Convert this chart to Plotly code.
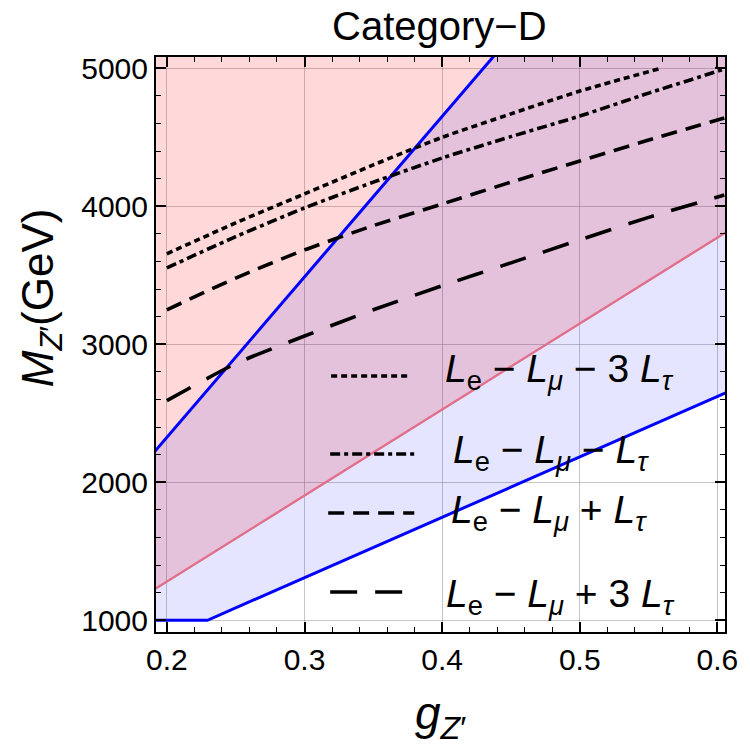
import plotly.graph_objects as go

# ---------------- data ----------------
# exclusion / bound lines (g_Z', M_Z' in GeV)
g_blue_up = [0.18, 0.45]
M_blue_up = [2093, 5233]
g_blue_lo = [0.18, 0.2295, 0.62]
M_blue_lo = [1000, 1000, 2709]
g_red = [0.18, 0.62]
M_red = [1156, 3898]

# L_e - L_mu - 3 L_tau (dotted)
g_c1 = [0.2, 0.25, 0.3, 0.35, 0.4, 0.45, 0.5, 0.56]
M_c1 = [3656, 3880, 4090, 4300, 4500, 4670, 4835, 5003]
# L_e - L_mu - L_tau (dash-dot)
g_c2 = [0.2, 0.25, 0.3, 0.35, 0.4, 0.45, 0.5, 0.55, 0.605]
M_c2 = [3554, 3780, 3988, 4175, 4350, 4505, 4654, 4820, 4994]
# L_e - L_mu + L_tau (dashed)
g_c3 = [0.2, 0.25, 0.3, 0.35, 0.4, 0.45, 0.5, 0.55, 0.605]
M_c3 = [3250, 3480, 3684, 3860, 4017, 4175, 4328, 4480, 4640]
# L_e - L_mu + 3 L_tau (long dashed)
g_c4 = [0.2, 0.25, 0.3, 0.35, 0.4, 0.45, 0.5, 0.55, 0.605]
M_c4 = [2592, 2860, 3060, 3250, 3424, 3590, 3757, 3920, 4082]

x_ticks = [0.2, 0.3, 0.4, 0.5, 0.6]
x_ticktext = ["0.2", "0.3", "0.4", "0.5", "0.6"]
y_ticks = [1000, 2000, 3000, 4000, 5000]
y_ticktext = ["1000", "2000", "3000", "4000", "5000"]

labels = [
    "<i>L</i><sub>e</sub> \u2212 <i>L</i><sub><i>\u03bc</i></sub> \u2212 3 <i>L</i><sub><i>\u03c4</i></sub>",
    "<i>L</i><sub>e</sub> \u2212 <i>L</i><sub><i>\u03bc</i></sub> \u2212 <i>L</i><sub><i>\u03c4</i></sub>",
    "<i>L</i><sub>e</sub> \u2212 <i>L</i><sub><i>\u03bc</i></sub> + <i>L</i><sub><i>\u03c4</i></sub>",
    "<i>L</i><sub>e</sub> \u2212 <i>L</i><sub><i>\u03bc</i></sub> + 3 <i>L</i><sub><i>\u03c4</i></sub>",
]
dashes = ["6px,4px", "10px,4px,4px,4px", "16px,9px", "27px,18px"]

X_RANGE = [0.1921, 0.6055]
Y_RANGE = [915, 5082]
FILL_TOP = 6000

# ---------------- layout geometry (pixels) ----------------
W, H = 750, 748
L, R, T, B = 156, 19, 57, 116
PW, PH = W - L - R, H - T - B


def px(xp):
    return (xp - L) / PW


def py(yp):
    return (H - B - yp) / PH


FONT = "Liberation Sans, Arial, sans-serif"

fig = go.Figure()

# pink region: above red line
fig.add_trace(go.Scatter(
    x=g_red + [g_red[-1], g_red[0]],
    y=M_red + [FILL_TOP, FILL_TOP],
    fill="toself", fillcolor="rgba(255,0,0,0.15)",
    line=dict(width=0), mode="lines", hoverinfo="skip", showlegend=False))

# blue region: lower boundary then upper boundary (extended to top)
blue_x = g_blue_lo + [g_blue_lo[-1], g_blue_up[-1]] + g_blue_up[::-1]
blue_y = M_blue_lo + [FILL_TOP, FILL_TOP] + M_blue_up[::-1]
fig.add_trace(go.Scatter(
    x=blue_x, y=blue_y,
    fill="toself", fillcolor="rgba(0,0,255,0.10)",
    line=dict(width=0), mode="lines", hoverinfo="skip", showlegend=False))

# lines
fig.add_trace(go.Scatter(x=g_red, y=M_red, mode="lines",
                         line=dict(color="#E0708A", width=2.4), showlegend=False))
fig.add_trace(go.Scatter(x=g_blue_up, y=M_blue_up, mode="lines",
                         line=dict(color="#0000FF", width=3), showlegend=False))
fig.add_trace(go.Scatter(x=g_blue_lo, y=M_blue_lo, mode="lines",
                         line=dict(color="#0000FF", width=3), showlegend=False))

for gx, my, d in zip([g_c1, g_c2, g_c3, g_c4], [M_c1, M_c2, M_c3, M_c4], dashes):
    fig.add_trace(go.Scatter(x=gx, y=my, mode="lines",
                             line=dict(color="black", width=3.6, dash=d, shape="spline",
                                       smoothing=0.6),
                             showlegend=False))

# legend (samples as shapes, labels as annotations)
sample_px = [(333, 413, 376), (332, 419, 454), (330, 417, 513), (332, 405, 592)]
label_px = [(446, 372), (454, 452), (452, 512), (447, 596)]
shapes = []
annotations = []
for (x0, x1, yy), d in zip(sample_px, dashes):
    shapes.append(dict(type="line", xref="paper", yref="paper",
                       x0=px(x0), x1=px(x1), y0=py(yy), y1=py(yy),
                       line=dict(color="black", width=3.6, dash=d)))
for (xx, yy), t in zip(label_px, labels):
    annotations.append(dict(xref="paper", yref="paper", x=px(xx), y=py(yy),
                            xanchor="left", yanchor="middle", showarrow=False,
                            text=t, font=dict(size=39, color="black", family=FONT)))

# title and axis titles
annotations.append(dict(xref="paper", yref="paper", x=px(442), y=py(26),
                        xanchor="center", yanchor="middle", showarrow=False,
                        text="Category\u2212D", font=dict(size=40, color="black", family=FONT)))
annotations.append(dict(xref="paper", yref="paper", x=px(443), y=py(716),
                        xanchor="center", yanchor="middle", showarrow=False,
                        text="<i>g</i><sub><i>Z</i>\u2032</sub>",
                        font=dict(size=46, color="black", family=FONT)))
annotations.append(dict(xref="paper", yref="paper", x=px(40), y=py(298),
                        xanchor="center", yanchor="middle", showarrow=False, textangle=-90,
                        text="<i>M</i><sub><i>Z</i>\u2032</sub>(GeV)",
                        font=dict(size=44, color="black", family=FONT)))

axis_common = dict(
    showline=True, linecolor="black", linewidth=2, mirror="ticks",
    ticks="inside", ticklen=10, tickwidth=1.5, tickcolor="black",
    showgrid=True, gridcolor="rgba(130,130,130,0.45)", gridwidth=1.2,
    zeroline=False, tickfont=dict(size=30, color="black", family=FONT),
)

fig.update_layout(
    width=W, height=H,
    margin=dict(l=L, r=R, t=T, b=B),
    paper_bgcolor="white", plot_bgcolor="white",
    xaxis=dict(range=X_RANGE, tickvals=x_ticks, ticktext=x_ticktext,
               minor=dict(ticks="inside", dtick=0.02, ticklen=5, tickcolor="black",
                          tickwidth=1.2, showgrid=False),
               **axis_common),
    yaxis=dict(range=Y_RANGE, tickvals=y_ticks, ticktext=y_ticktext,
               minor=dict(ticks="inside", dtick=200, ticklen=5, tickcolor="black",
                          tickwidth=1.2, showgrid=False),
               **axis_common),
    shapes=shapes,
    annotations=annotations,
)

fig.write_html("out.html")
